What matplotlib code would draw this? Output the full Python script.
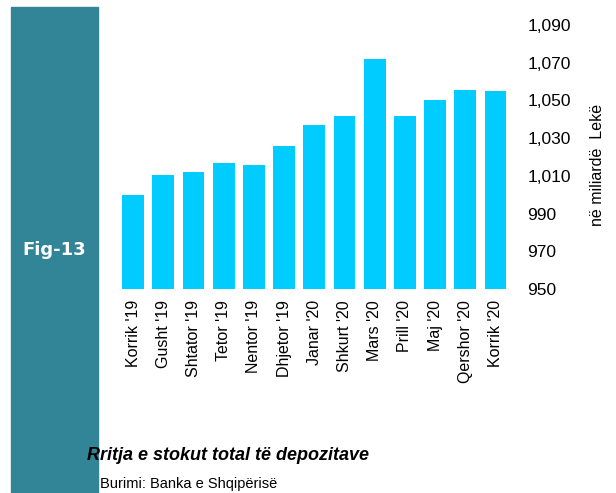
import matplotlib
matplotlib.use("Agg")
import matplotlib.pyplot as plt
import matplotlib.ticker as mticker
from matplotlib.patches import Rectangle

plt.rcParams['font.family'] = ['Liberation Sans', 'DejaVu Sans']

# ---- data ----
months = ["Korrik '19", "Gusht '19", "Shtator '19", "Tetor '19", "Nentor '19",
          "Dhjetor '19", "Janar '20", "Shkurt '20", "Mars '20", "Prill '20",
          "Maj '20", "Qershor '20", "Korrik '20"]
deposits = [1000, 1010.5, 1012, 1017, 1016, 1026, 1037, 1042, 1072, 1042,
            1050, 1055.5, 1055]
yticks = [950, 970, 990, 1010, 1030, 1050, 1070, 1090]

BAR_COLOR = "#00CCFF"
TEAL = "#318596"

W, H = 616, 493
fig = plt.figure(figsize=(W / 100, H / 100), dpi=100)

# teal side panel
fig.patches.append(Rectangle((11 / W, 0), 87 / W, (H - 7) / H,
                             transform=fig.transFigure, color=TEAL, zorder=0))
fig.text(54 / W, 1 - 250 / H, "Fig-13", color="white", fontsize=13,
         fontweight="bold", ha="center", va="center",
         family=["DejaVu Sans"])

ax = fig.add_axes([118 / W, (H - 289) / H, 392.6 / W, 264 / H])
ax.bar(range(len(months)), deposits, width=0.72, color=BAR_COLOR, zorder=2)
ax.set_xlim(-0.5, len(months) - 0.5)
ax.set_ylim(950, 1090)
ax.set_yticks(yticks)
ax.yaxis.set_major_formatter(mticker.FuncFormatter(lambda v, p: f"{int(v):,}"))
ax.yaxis.tick_right()
ax.set_xticks(range(len(months)))
ax.set_xticklabels(months, rotation=90)
ax.tick_params(axis="y", length=0, pad=12, labelsize=12.5)
ax.tick_params(axis="x", length=0, pad=8, labelsize=11.5)
for s in ax.spines.values():
    s.set_visible(False)

fig.text(597 / W, 1 - 165 / H, "në miliardë  Lekë", rotation=90,
         ha="center", va="center", fontsize=11.5)

fig.text(87 / W, 1 - 455 / H, "Rritja e stokut total të depozitave",
         fontsize=13, fontweight="bold", fontstyle="italic",
         ha="left", va="center")
fig.text(100 / W, 1 - 484 / H, "Burimi: Banka e Shqipërisë",
         fontsize=10.5, ha="left", va="center")

fig.savefig("out.png", dpi=100)
